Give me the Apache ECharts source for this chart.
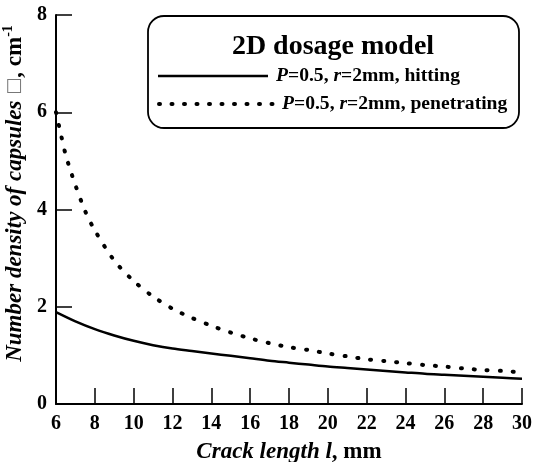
<!DOCTYPE html>
<html>
<head>
<meta charset="utf-8">
<script src="https://cdn.jsdelivr.net/npm/echarts@6/dist/echarts.min.js"></script>
<style>html,body{margin:0;padding:0;background:#fff}#c{width:533px;height:462px}</style>
</head>
<body>
<div id="c"></div>
<script>
const crackLength = [6, 7, 8, 9, 10, 11, 12, 13, 14, 15, 16, 17, 18, 19, 20, 21, 22, 23, 24, 25, 26, 27, 28, 29, 30];
const hitting = [1.89, 1.70, 1.54, 1.41, 1.30, 1.21, 1.14, 1.09, 1.04, 0.99, 0.94, 0.89, 0.85, 0.81, 0.77, 0.74, 0.71, 0.68, 0.65, 0.62, 0.60, 0.58, 0.56, 0.54, 0.52];
const penetratingX = [6, 6.25, 6.5, 6.75, 7, 7.5, 8, 9, 10, 11, 12, 13, 14, 15, 16, 17, 18, 19, 20, 21, 22, 23, 24, 25, 26, 27, 28, 29, 30];
const penetrating = [6.0, 5.55, 5.12, 4.80, 4.50, 3.97, 3.57, 2.95, 2.53, 2.21, 1.96, 1.77, 1.61, 1.47, 1.35, 1.25, 1.17, 1.11, 1.04, 0.98, 0.92, 0.88, 0.84, 0.80, 0.77, 0.73, 0.70, 0.68, 0.65];
const xTicks = {min: 6, max: 30, interval: 2};
const yTicks = {min: 0, max: 8, interval: 2};
const legendTitle = '2D dosage model';
const seriesNames = ['P=0.5, r=2mm, hitting', 'P=0.5, r=2mm, penetrating'];

const FONT = '"Liberation Serif", "DejaVu Serif", serif';
const chart = echarts.init(document.getElementById('c'), null, {renderer: 'canvas'});
const legendRich = {
  i: {fontFamily: FONT, fontWeight: 'bold', fontStyle: 'italic', fontSize: 19.6, fill: '#000'},
  b: {fontFamily: FONT, fontWeight: 'bold', fontSize: 19.6, fill: '#000'}
};
function legendText(name) {
  const m = name.match(/^P(=[^,]+), r(=[^,]+)(,.*)$/);
  return '{i|P}{b|' + m[1] + ', }{i|r}{b|' + m[2] + m[3] + '}';
}
chart.setOption({
  animation: false,
  backgroundColor: '#fff',
  grid: {left: 56, right: 11, top: 15, bottom: 58, containLabel: false, outerBoundsMode: 'none'},
  xAxis: {
    type: 'value', min: xTicks.min, max: xTicks.max, interval: xTicks.interval,
    name: '{i|Crack length l}{b|, mm}', nameLocation: 'middle', nameGap: 37,
    nameTextStyle: {rich: {
      i: {fontFamily: FONT, fontWeight: 'bold', fontStyle: 'italic', fontSize: 23, color: '#000'},
      b: {fontFamily: FONT, fontWeight: 'bold', fontSize: 23, color: '#000'}
    }},
    axisLine: {show: true, lineStyle: {color: '#000', width: 2}},
    axisTick: {show: true, inside: true, length: 16, lineStyle: {color: '#000', width: 1.5}},
    axisLabel: {fontFamily: FONT, fontWeight: 'bold', fontSize: 20, color: '#000', margin: 10},
    splitLine: {show: false}
  },
  yAxis: {
    type: 'value', min: yTicks.min, max: yTicks.max, interval: yTicks.interval,
    name: '{i|Number density of capsules }{g|□}{b|, cm}{s|-1}', nameLocation: 'middle', nameGap: 22, nameRotate: 90,
    nameTextStyle: {padding: [0, 0, 0, 32], rich: {
      i: {fontFamily: FONT, fontWeight: 'bold', fontStyle: 'italic', fontSize: 23, color: '#000', lineHeight: 26},
      g: {fontFamily: '"DejaVu Sans", sans-serif', fontSize: 18, color: '#777', lineHeight: 26},
      b: {fontFamily: FONT, fontWeight: 'bold', fontSize: 23, color: '#000', lineHeight: 26},
      s: {fontFamily: FONT, fontWeight: 'bold', fontSize: 14, color: '#000', verticalAlign: 'top', lineHeight: 26, padding: [0, 0, 9, 0]}
    }},
    axisLine: {show: true, lineStyle: {color: '#000', width: 2}},
    axisTick: {show: true, inside: true, length: 16, lineStyle: {color: '#000', width: 1.5}},
    axisLabel: {fontFamily: FONT, fontWeight: 'bold', fontSize: 20, color: '#000', margin: 9},
    splitLine: {show: false}
  },
  series: [
    {
      name: seriesNames[0], type: 'line', showSymbol: false, smooth: 0.3,
      data: crackLength.map((x, i) => [x, hitting[i]]),
      lineStyle: {color: '#000', width: 2.5}
    },
    {
      name: seriesNames[1], type: 'line', showSymbol: false, smooth: 0.3,
      data: penetratingX.map((x, i) => [x, penetrating[i]]),
      lineStyle: {color: '#000', width: 4, type: [1, 12], cap: 'round'}
    }
  ],
  graphic: [
    {type: 'rect', shape: {x: 148, y: 16, width: 371, height: 112, r: 16},
     style: {fill: '#fff', stroke: '#000', lineWidth: 1.8}, z: 10},
    {type: 'text', x: 333, y: 47, z: 11,
     style: {text: legendTitle, fontFamily: FONT, fontWeight: 'bold', fontSize: 28, fill: '#000', align: 'center', verticalAlign: 'middle'}},
    {type: 'line', shape: {x1: 158, y1: 76, x2: 268, y2: 76}, z: 11,
     style: {stroke: '#000', lineWidth: 2.5}},
    {type: 'text', x: 276, y: 76, z: 11,
     style: {text: legendText(seriesNames[0]), rich: legendRich, verticalAlign: 'middle'}},
    {type: 'line', shape: {x1: 159, y1: 104, x2: 273, y2: 104}, z: 11,
     style: {stroke: '#000', lineWidth: 4, lineDash: [1, 11.5], lineCap: 'round'}},
    {type: 'text', x: 282, y: 104, z: 11,
     style: {text: legendText(seriesNames[1]), rich: legendRich, verticalAlign: 'middle'}}
  ]
});
</script>
</body>
</html>
